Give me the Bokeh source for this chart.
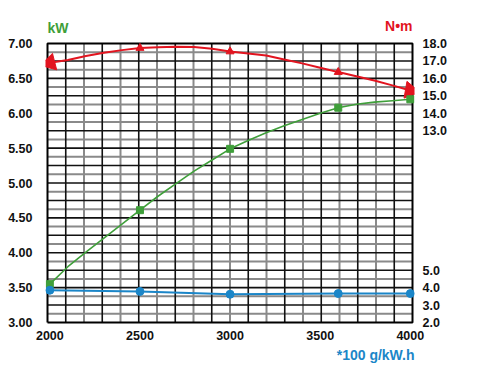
import numpy as np
from bokeh.plotting import figure
from bokeh.models import Range1d, LinearAxis, FixedTicker, Label, NumeralTickFormatter, Title
from bokeh.embed import file_html
from bokeh.resources import INLINE

# ---- data ----
rpm_pts = [2000, 2500, 3000, 3600, 4000]
power_pts = [3.55, 4.61, 5.49, 6.08, 6.20]          # kW (left axis)
torque_pts = [16.89, 17.74, 17.54, 16.36, 15.30]    # N·m (right axis)
fuel_pts = [3.85, 3.78, 3.62, 3.66, 3.66]           # *100 g/kW.h (right axis)

curve_rpm = [2000, 2100, 2200, 2300, 2400, 2500, 2600, 2700, 2800, 2900, 3000,
             3100, 3200, 3300, 3400, 3500, 3600, 3700, 3800, 3900, 4000]
power_curve = [3.55, 3.80, 4.01, 4.21, 4.41, 4.61, 4.81, 4.99, 5.17, 5.33, 5.49,
               5.61, 5.72, 5.82, 5.91, 6.00, 6.08, 6.13, 6.16, 6.18, 6.20]
torque_curve = [16.89, 17.05, 17.28, 17.47, 17.62, 17.74, 17.79, 17.81, 17.80, 17.70, 17.54,
                17.43, 17.31, 17.08, 16.86, 16.61, 16.36, 16.12, 15.88, 15.60, 15.30]

x_ticks = [2000, 2500, 3000, 3500, 4000]
left_ticks = [3.0, 3.5, 4.0, 4.5, 5.0, 5.5, 6.0, 6.5, 7.0]
right_ticks = [2, 3, 4, 5, 13, 14, 15, 16, 17, 18]

RED = "#e2141f"
GREEN = "#3f9f3a"
BLUE = "#1b86c8"
FONT = "Liberation Sans"

# ---- layout (pixels) ----
BOX_W, BOX_H = 365, 279        # chart box
PAD = 2                        # frame padding around the box
TOP_EXTRA = 35                 # room inside the frame above the box for unit labels
BOTTOM = 45
X0, X1 = 1987, 4012            # box x extent (rpm)
L0, L1 = 3.0, 7.0              # left axis extent
R0, R1 = 2.0, 18.0             # right axis extent

xpx = (X1 - X0) / BOX_W
lpx = (L1 - L0) / BOX_H
rpx = (R1 - R0) / BOX_H

W = 476
H = (43 - TOP_EXTRA) + TOP_EXTRA + BOX_H + PAD + BOTTOM

p = figure(width=W, height=H,
           x_range=Range1d(X0 - PAD * xpx, X1 + PAD * xpx),
           y_range=Range1d(L0 - PAD * lpx, L1 + TOP_EXTRA * lpx),
           output_backend="svg", toolbar_location=None,
           min_border_left=47 - PAD, min_border_right=W - (47 - PAD) - (BOX_W + 2 * PAD),
           min_border_top=43 - TOP_EXTRA, min_border_bottom=BOTTOM)
p.extra_y_ranges = {"right": Range1d(R0 - PAD * rpx, R1 + TOP_EXTRA * rpx)}
p.xgrid.visible = False
p.ygrid.visible = False
p.background_fill_color = "white"
p.border_fill_color = "white"
p.outline_line_color = None

# chart grid (style)
vx = np.linspace(X0, X1, 21)
hy = np.linspace(L0, L1, 33)
vb = vx[1:-1:2]
vg = vx[2:-1:2]
hb = hy[2:-1:2]
hg = hy[1::2]
p.segment(x0=vg, y0=L0, x1=vg, y1=L1, line_color="#8a8a8a", line_width=2)
p.segment(x0=X0, y0=hg, x1=X1, y1=hg, line_color="#8a8a8a", line_width=2)
p.segment(x0=vb, y0=L0, x1=vb, y1=L1, line_color="#111111", line_width=1.6)
p.segment(x0=X0, y0=hb, x1=X1, y1=hb, line_color="#111111", line_width=1.6)
p.multi_line(xs=[[X0, X1, X1, X0, X0]], ys=[[L0, L0, L1, L1, L0]],
             line_color="black", line_width=2)

def style_axis(ax, fmt, standoff):
    ax.formatter = NumeralTickFormatter(format=fmt)
    ax.axis_line_color = None
    ax.major_tick_line_color = None
    ax.minor_tick_line_color = None
    ax.major_label_text_font = FONT
    ax.major_label_text_font_style = "bold"
    ax.major_label_text_font_size = "12.5px"
    ax.major_label_text_color = "#111111"
    ax.major_label_standoff = standoff

p.xaxis.ticker = FixedTicker(ticks=x_ticks)
p.yaxis.ticker = FixedTicker(ticks=left_ticks)
style_axis(p.xaxis[0], "0", 0)
style_axis(p.yaxis[0], "0.00", 7)
p.yaxis[0].major_label_text_baseline = "alphabetic"

raxis = LinearAxis(y_range_name="right", ticker=FixedTicker(ticks=right_ticks))
style_axis(raxis, "0.0", 2)
raxis.major_label_text_baseline = "alphabetic"
p.add_layout(raxis, "right")

# curves
p.line(curve_rpm, torque_curve, y_range_name="right", line_color=RED, line_width=2)
p.line(curve_rpm, power_curve, line_color=GREEN, line_width=1.6)
p.line(rpm_pts, fuel_pts, y_range_name="right", line_color=BLUE, line_width=2)

# markers
p.scatter(rpm_pts[1:4], torque_pts[1:4], y_range_name="right", marker="triangle",
          size=8, color=RED)
p.scatter(rpm_pts[:1], torque_pts[:1], y_range_name="right", marker="triangle",
          size=17, angle=np.pi / 2 + 0.25, color=RED)
p.scatter(rpm_pts[-1:], torque_pts[-1:], y_range_name="right", marker="triangle",
          size=17, angle=0.35, color=RED)
p.scatter(rpm_pts, power_pts, marker="square", size=7, color=GREEN)
p.scatter(rpm_pts, fuel_pts, y_range_name="right", marker="circle", size=8, color=BLUE)

# unit labels
p.add_layout(Label(x=X0, y=L1 + 16 * lpx, text="kW", text_color=GREEN, text_font=FONT,
                   text_font_style="bold", text_font_size="14px",
                   text_align="left", text_baseline="middle"))
p.add_layout(Label(x=X1, y=L1 + 18 * lpx, text="N\u2022m", text_color=RED, text_font=FONT,
                   text_font_style="bold", text_font_size="14px",
                   text_align="right", text_baseline="middle"))
p.add_layout(Title(text="*100 g/kW.h", align="right", text_color=BLUE, text_font=FONT,
                   text_font_style="bold", text_font_size="14px", standoff=5), "below")

open("out.html", "w").write(file_html(p, INLINE))
